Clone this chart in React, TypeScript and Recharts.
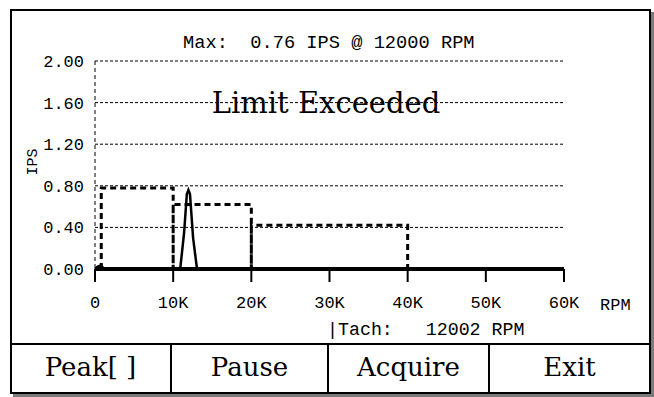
import { LineChart, Line, XAxis, YAxis, CartesianGrid } from 'recharts';

// tick values
const rpmTicks = [0, 10000, 20000, 30000, 40000, 50000, 60000];
const ipsTicks = [0, 0.4, 0.8, 1.2, 1.6, 2.0];

// alarm limit bands (dashed)
const limitRpm = [800, 800, 10000, 10000, 10000, 20000, 20000, 20000, 40000, 40000];
const limitIps = [0, 0.78, 0.78, 0, 0.62, 0.62, 0, 0.42, 0.42, 0];

// measured spectrum (solid)
const spectrumRpm = [0, 300, 600, 900, 1200, 10900, 11400, 11750, 11950, 12150, 12550, 13050, 60000];
const spectrumIps = [0, 0.02, 0.03, 0.02, 0, 0, 0.35, 0.72, 0.76, 0.72, 0.3, 0, 0];

const buttonLabels = ['Peak[ ]', 'Pause', 'Acquire', 'Exit'];
const buttonEdges = [10, 171, 328, 489, 650];

const limitData = limitRpm.map((rpm, i) => ({ rpm, ips: limitIps[i] }));
const spectrumData = spectrumRpm.map((rpm, i) => ({ rpm, ips: spectrumIps[i] }));

const mono = '"Liberation Mono", "DejaVu Sans Mono", monospace';
const serif = '"DejaVu Serif", serif';

const fmtRpm = (v: number) => (v === 0 ? '0' : `${v / 1000}K`);

export default function App() {
    return (
        <div style={{ position: 'absolute', left: 0, top: 0, width: 654, height: 397, background: '#fff' }}>
            <div
                style={{
                    position: 'absolute',
                    left: 10,
                    top: 9,
                    width: 641,
                    height: 385,
                    border: '2px solid #000',
                    boxSizing: 'border-box',
                    boxShadow: '3px 3px 0 #7a7a7a',
                }}
            />
            <div style={{ position: 'absolute', left: 0, top: 0 }}>
                <LineChart width={654} height={340} margin={{ top: 61, right: 90, bottom: 41, left: 35 }}>
                    <CartesianGrid horizontal vertical={false} stroke="#000" strokeDasharray="3 2" strokeWidth={1} />
                    <XAxis
                        dataKey="rpm"
                        type="number"
                        domain={[0, 60000]}
                        ticks={rpmTicks}
                        tickFormatter={fmtRpm}
                        height={30}
                        axisLine={{ stroke: '#000', strokeWidth: 4 }}
                        tickLine={{ stroke: '#000', strokeWidth: 2 }}
                        tickSize={13}
                        tickMargin={14}
                        tick={{ fill: '#000', fontFamily: mono, fontSize: 17 }}
                    />
                    <YAxis
                        type="number"
                        domain={[0, 2]}
                        ticks={ipsTicks}
                        tickFormatter={(v: number) => v.toFixed(2)}
                        width={60}
                        axisLine={{ stroke: '#000', strokeDasharray: '4 3' }}
                        tickLine={false}
                        tickSize={9}
                        tick={{ fill: '#000', fontFamily: mono, fontSize: 17 }}
                    />
                    <Line
                        data={limitData}
                        dataKey="ips"
                        type="linear"
                        stroke="#000"
                        strokeWidth={3}
                        strokeDasharray="6 4"
                        dot={false}
                        isAnimationActive={false}
                    />
                    <Line
                        data={spectrumData}
                        dataKey="ips"
                        type="linear"
                        stroke="#000"
                        strokeWidth={2.5}
                        dot={false}
                        isAnimationActive={false}
                    />
                </LineChart>
            </div>
            <svg
                width={654}
                height={397}
                style={{ position: 'absolute', left: 0, top: 0, pointerEvents: 'none' }}
            >
                <text x={183} y={48} fontFamily={mono} fontSize={18.7} fill="#000" style={{ whiteSpace: 'pre' }}>
                    {'Max:  0.76 IPS @ 12000 RPM'}
                </text>
                <text x={326} y={113} textAnchor="middle" fontFamily={serif} fontSize={29} fill="#000">
                    Limit Exceeded
                </text>
                <text
                    x={33}
                    y={162}
                    transform="rotate(-90 33 162)"
                    textAnchor="middle"
                    dominantBaseline="central"
                    fontFamily={mono}
                    fontSize={15}
                    fill="#000"
                >
                    IPS
                </text>
                <text x={600} y={310} fontFamily={mono} fontSize={17} fill="#000">
                    RPM
                </text>
                <text x={327} y={335} fontFamily={mono} fontSize={18.3} fill="#000" style={{ whiteSpace: 'pre' }}>
                    {'|Tach:   12002 RPM'}
                </text>
                <line x1={10} x2={650} y1={344} y2={344} stroke="#000" strokeWidth={2} />
                {buttonEdges.slice(1, -1).map((x) => (
                    <line key={x} x1={x} x2={x} y1={344} y2={393} stroke="#000" strokeWidth={2} />
                ))}
                {buttonLabels.map((label, i) => (
                    <text
                        key={label}
                        x={(buttonEdges[i] + buttonEdges[i + 1]) / 2}
                        y={376}
                        textAnchor="middle"
                        fontFamily={serif}
                        fontSize={26}
                        fill="#000"
                        style={{ whiteSpace: 'pre' }}
                    >
                        {label}
                    </text>
                ))}
            </svg>
        </div>
    );
}
